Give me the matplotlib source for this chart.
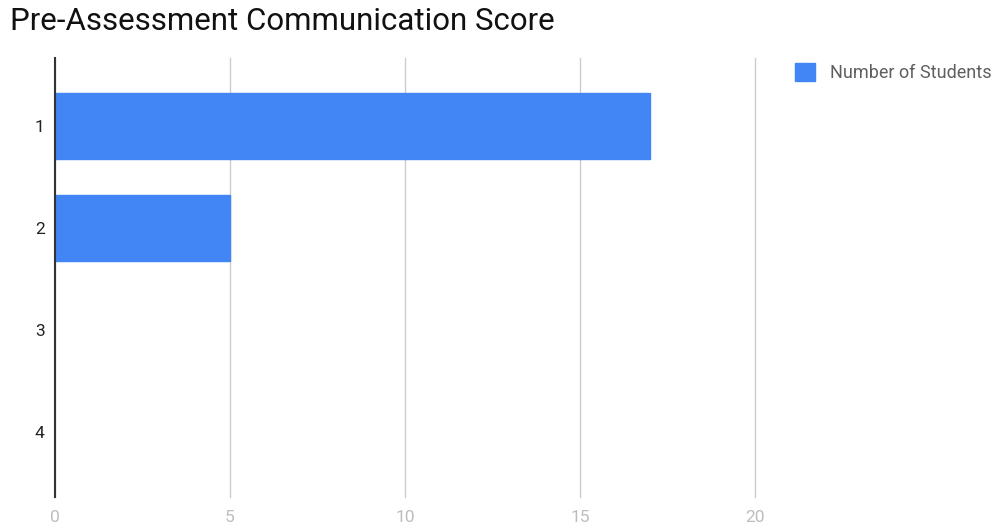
import matplotlib
matplotlib.use("Agg")
import matplotlib.pyplot as plt
from matplotlib.patches import Patch

categories = ["1", "2", "3", "4"]
students = [17, 5, 0, 0]
x_ticks = [0, 5, 10, 15, 20]
series_name = "Number of Students"
title = "Pre-Assessment Communication Score"

plt.rcParams["font.family"] = ["Roboto", "DejaVu Sans"]

BAR_COLOR = "#4285F4"

fig = plt.figure(figsize=(9.98, 5.27), dpi=100)
ax = fig.add_axes([55 / 998, 1 - 497 / 527, 700 / 998, (497 - 57.7) / 527])

positions = list(range(1, len(categories) + 1))
edge_widths = [1.0 if v > 0 else 0.0 for v in students]
ax.barh(positions, students, height=0.64, color=BAR_COLOR,
        edgecolor=BAR_COLOR, linewidth=edge_widths, joinstyle="round",
        zorder=3)

ax.set_xlim(0, 20)
ax.set_ylim(4.64, 0.33)
ax.set_xticks(x_ticks)
ax.set_xticklabels([str(t) for t in x_ticks])
ax.set_yticks(positions)
ax.set_yticklabels(categories)

ax.grid(axis="x", color="#cccccc", linewidth=1.0, zorder=0)
for gl in ax.get_xgridlines():
    gl.set_clip_on(False)
ax.set_axisbelow(True)
for side in ("top", "right", "bottom"):
    ax.spines[side].set_visible(False)
ax.spines["left"].set_color("#333333")
ax.spines["left"].set_linewidth(1.5)
ax.spines["left"].set_zorder(4)

ax.tick_params(axis="x", length=0, pad=9, labelsize=12.5, labelcolor="#bdbdbd")
ax.tick_params(axis="y", length=0, pad=7.5, labelsize=12.5, labelcolor="#222222")

fig.text(10 / 998, 1 - 22 / 527, title, fontsize=22.5, color="#111111",
         ha="left", va="center")

handle = Patch(facecolor=BAR_COLOR, edgecolor=BAR_COLOR, label=series_name)
fig.legend(handles=[handle], loc="upper left",
           bbox_to_anchor=(788 / 998, 1 - 56 / 527), frameon=False,
           fontsize=13, labelcolor="#5f5f5f", handlelength=1.1,
           handleheight=1.1, handletextpad=0.85, borderaxespad=0)

fig.savefig("out.png", dpi=100, facecolor="white")
